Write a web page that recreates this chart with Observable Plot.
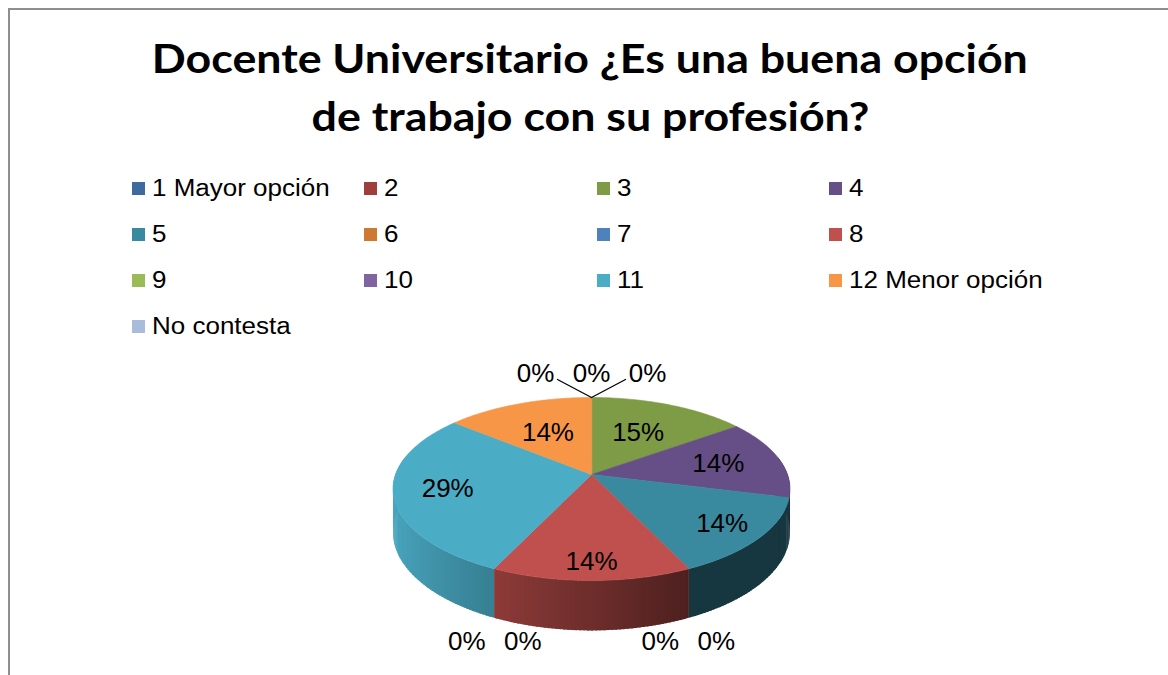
<!DOCTYPE html>
<html><head><meta charset="utf-8">
<script src="https://cdn.jsdelivr.net/npm/d3@7"></script>
<script src="https://cdn.jsdelivr.net/npm/@observablehq/plot@0.6"></script>
<style>
html,body{margin:0;padding:0;background:#fff;width:1168px;height:675px;overflow:hidden;}
#frame{position:absolute;left:8px;top:8px;width:1200px;height:700px;border:2px solid #8e8e8e;box-sizing:border-box;}
#title{position:absolute;left:0;top:29px;width:1180px;text-align:center;font-family:Lato,"Open Sans",sans-serif;font-weight:700;font-size:40px;line-height:58px;color:#000;}
#title span{display:inline-block;white-space:nowrap;transform-origin:center center;}
#legend{position:absolute;left:0;top:165px;}
.item{position:absolute;height:46px;display:flex;align-items:center;font-family:"Liberation Sans",Arial,sans-serif;font-size:23px;color:#000;white-space:nowrap;}
.sw{width:13px;height:13px;margin-right:7px;flex:none;}
.lab{display:inline-block;transform:scaleX(1.13);transform-origin:left center;}
#chart{position:absolute;left:0;top:345px;}
</style></head><body>
<div id="frame"></div>
<div id="title"><span id="t1"></span><br><span id="t2"></span></div>
<div id="legend"></div>
<div id="chart"></div>
<script>
const titleLines = ["Docente Universitario ¿Es una buena opción", "de trabajo con su profesión?"];
const categories = ["1 Mayor opción","2","3","4","5","6","7","8","9","10","11","12 Menor opción","No contesta"];
const percents = [0,0,15,14,14,0,0,14,0,0,29,14,0];
const colors = ["#3E6A9F","#9F3F3C","#7E9B45","#664F86","#398A9F","#CD7932","#4F81BD","#C0504D","#9BBB59","#8064A2","#4BACC6","#F79646","#A9BCDA"];

// ---- title ----
const t1 = document.getElementById("t1"), t2 = document.getElementById("t2");
t1.textContent = titleLines[0];
t2.textContent = titleLines[1];
const sc = 876 / t1.getBoundingClientRect().width;
t1.style.transform = `scaleX(${sc})`;
t2.style.transform = `scaleX(${sc})`;

// ---- legend ----
const legend = document.getElementById("legend");
categories.forEach((c, i) => {
  const col = i % 4, row = Math.floor(i / 4);
  const it = document.createElement("div");
  it.className = "item";
  it.style.left = (132 + col * 232.3) + "px";
  it.style.top = (row * 46) + "px";
  const sw = document.createElement("div");
  sw.className = "sw"; sw.style.background = colors[i];
  const lb = document.createElement("span");
  lb.className = "lab"; lb.textContent = c;
  it.appendChild(sw); it.appendChild(lb);
  legend.appendChild(it);
});

// ---- 3D pie ----
const data = categories.map((c, i) => ({category: c, value: percents[i], color: colors[i], index: i}));
const K = 0.1585;            // perspective strength
const DEPTH = 42 / 89.2;     // slab depth in y units
function proj(u, v, h) { const w = 1 - K * v; return [u / w, (v + h * DEPTH) / w]; }
const arcs = d3.pie().sort(null).value(d => d.value).startAngle(0).endAngle(2 * Math.PI)(data);
const STEP = Math.PI / 180;

function shade(c, u) {
  const f = Math.max(0.40, 0.97 - 0.4 * (u + 1));
  const r = d3.rgb(c);
  return d3.rgb(r.r * f, r.g * f, r.b * f).formatHex();
}

// side quads (slightly overlapping to avoid seams)
const quads = [];
arcs.filter(a => a.data.value > 0).forEach(a => {
  const span = a.endAngle - a.startAngle;
  const n = Math.max(1, Math.ceil(span / STEP));
  for (let i = 0; i < n; i++) {
    const t0 = a.startAngle + span * i / n;
    const t1 = Math.min(a.endAngle, a.startAngle + span * (i + 1.6) / n);
    const tm = a.startAngle + span * (i + 0.5) / n;
    const vm = -Math.cos(tm);
    if (vm < -0.2) continue;
    const pts = [[t0, 0], [t1, 0], [t1, 1], [t0, 1]].map(([t, h]) => proj(Math.sin(t), -Math.cos(t), h));
    quads.push({vm, color: shade(a.data.color, Math.sin(tm)), pts});
  }
});
quads.sort((p, q) => p.vm - q.vm);
const sideRows = [];
quads.forEach((q, qi) => q.pts.forEach(p => sideRows.push({id: "s" + qi, x: p[0], y: p[1], color: q.color})));

// top faces
const topRows = [];
arcs.filter(a => a.data.value > 0).forEach(a => {
  const id = "t" + a.index;
  topRows.push({id, x: 0, y: 0, color: a.data.color});
  const n = Math.max(2, Math.ceil((a.endAngle - a.startAngle) / STEP));
  for (let i = 0; i <= n; i++) {
    const t = a.startAngle + (a.endAngle - a.startAngle) * i / n;
    const p = proj(Math.sin(t), -Math.cos(t), 0);
    topRows.push({id, x: p[0], y: p[1], color: a.data.color});
  }
});

// labels: nearer slices get labels further out
const fmt = v => Math.round(v) + "%";
const labels = arcs.filter(a => a.data.value > 0).map(a => {
  const m = (a.startAngle + a.endAngle) / 2;
  const r = 0.7 - 0.15 * Math.cos(m);
  const p = proj(r * Math.sin(m), -r * Math.cos(m), 0);
  return {x: p[0], y: p[1], text: fmt(a.data.value)};
});

const PX = 1 / 196, PY = 1 / 89.2;
const zeroGroups = d3.groups(arcs.filter(a => a.data.value === 0), a => Math.round(a.startAngle * 180 / Math.PI) % 360);
const leaders = [];
zeroGroups.forEach(([deg, g]) => {
  const t = deg * Math.PI / 180;
  const u = Math.sin(t), v = -Math.cos(t);
  const front = v > K;
  const [ax, ay] = proj(u, v, front ? 1 : 0);
  const n = g.length;
  g.sort((p, q) => p.index - q.index).forEach((a, j) => {
    const dx = (j - (n - 1) / 2) * 56;
    const dy = front ? 24 : -24;
    labels.push({x: ax + dx * PX, y: ay + dy * PY, text: fmt(a.data.value)});
    if (Math.abs(dx) > 40) {
      const id = "l" + a.index, s = Math.sign(dx);
      leaders.push({id, x: ax, y: ay});
      leaders.push({id, x: ax + (dx - s * 22) * PX, y: ay + (dy + (front ? -6 : 6)) * PY});
    }
  });
});

const cx = 591, cy = 129;
const chart = Plot.plot({
  width: 1168, height: 330, margin: 0,
  style: {background: "transparent"},
  x: {domain: [-1, 1], range: [cx - 196, cx + 196], axis: null},
  y: {domain: [-1, 1], range: [cy - 89.2, cy + 89.2], axis: null},
  color: {type: "identity"},
  marks: [
    Plot.line(sideRows, {x: "x", y: "y", z: "id", fill: "color", stroke: "none", curve: "linear-closed"}),
    Plot.line(topRows, {x: "x", y: "y", z: "id", fill: "color", stroke: "color", strokeWidth: 0.6, curve: "linear-closed"}),
    Plot.line(leaders, {x: "x", y: "y", z: "id", stroke: "#000", strokeWidth: 1.3}),
    Plot.text(labels, {x: "x", y: "y", text: "text", fontSize: 26, fontFamily: "Liberation Sans, Arial, sans-serif", fill: "#000"})
  ]
});
document.getElementById("chart").appendChild(chart);
</script>
</body></html>
